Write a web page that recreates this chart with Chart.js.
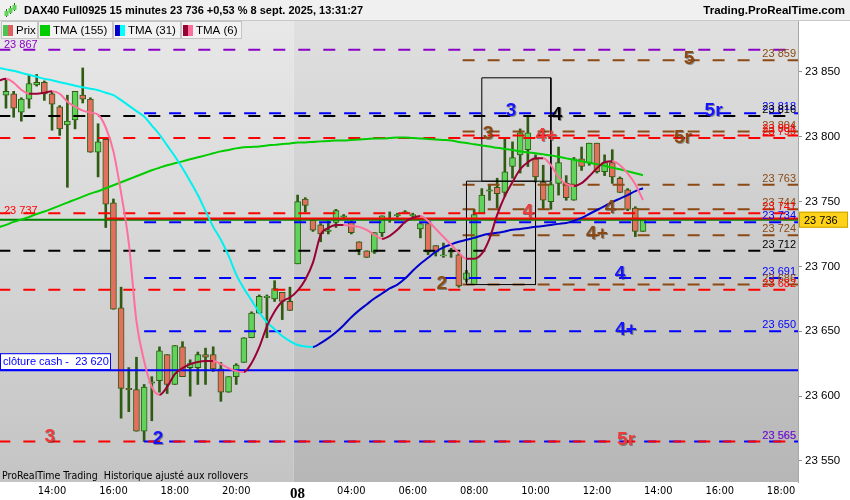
<!DOCTYPE html>
<html>
<head>
<meta charset="utf-8">
<script src="https://cdn.jsdelivr.net/npm/chart.js@4.4.1/dist/chart.umd.min.js"></script>
<style>
  html, body { margin: 0; padding: 0; background: #fff; }
</style>
</head>
<body>
<canvas id="myChart" width="850" height="500"></canvas>
<script>
// 15 minute bars, slot 0 = 14:00 on 5 sept. (night gap squeezed out)
let firstSlot = -6
let opens  = [23832,23833,23819,23829,23840,23842,23833,23823,23809,23813,23832,23829,23788,23798,23749,23668,23606,23605,23573,23610,
              23612,23632,23609,23638,23622,23622,23632,23632,23621,23603,23615,23626,23645,23664,23676,23675,23680,23673,23702,23752,
              23736,23732,23727,23734,23738,23734,23719,23712,23711,23726,23736,23739,23741,23739,23729,23733,23716,23708,23711,23709,
              23690,23686,23741,23758,23761,23757,23777,23786,23790,23783,23765,23750,23764,23764,23751,23783,23780,23795,23773,23780,
              23768,23759,23745,23727]
let highs  = [23845,23835,23830,23848,23848,23843,23835,23824,23832,23835,23853,23830,23810,23799,23752,23684,23622,23630,23609,23615,
              23638,23632,23639,23642,23628,23634,23637,23638,23626,23615,23625,23645,23665,23678,23678,23689,23680,23684,23755,23753,
              23737,23733,23735,23744,23740,23735,23719,23712,23726,23739,23742,23741,23743,23741,23733,23733,23716,23718,23714,23710,
              23697,23744,23760,23763,23768,23799,23796,23806,23816,23786,23778,23765,23792,23770,23784,23792,23795,23795,23786,23790,
              23769,23760,23746,23737]
let lows   = [23822,23815,23812,23822,23839,23828,23805,23801,23761,23806,23826,23788,23769,23730,23667,23583,23588,23573,23565,23581,
              23603,23602,23609,23615,23600,23609,23609,23619,23596,23603,23609,23626,23645,23664,23645,23673,23659,23666,23702,23742,
              23727,23719,23725,23730,23736,23725,23709,23707,23710,23723,23734,23738,23741,23738,23722,23709,23708,23707,23707,23684,
              23688,23686,23741,23751,23745,23754,23768,23772,23777,23765,23744,23744,23755,23751,23751,23774,23778,23772,23770,23764,
              23757,23743,23723,23727]
let closes = [23835,23822,23829,23841,23842,23833,23825,23806,23812,23835,23829,23788,23796,23748,23667,23606,23605,23573,23607,23611,
              23635,23609,23639,23615,23625,23632,23630,23621,23603,23615,23624,23645,23664,23677,23677,23683,23673,23666,23750,23747,
              23728,23725,23728,23743,23739,23726,23713,23707,23726,23739,23737,23740,23742,23740,23733,23711,23711,23709,23712,23685,
              23695,23740,23755,23759,23756,23773,23784,23803,23803,23769,23751,23763,23780,23753,23783,23777,23795,23773,23780,23769,
              23757,23744,23727,23736]

// moving averages, one value per slot from slot -7
let maFirstSlot = -7
let tma155 = [23730.1,23732.0,23734.3,23736.2,23738.1,23740.4,23742.3,23744.6,23746.9,23749.2,23751.5,23753.8,23756.1,23758.0,23760.3,
              23762.6,23764.9,23767.2,23769.5,23771.8,23774.1,23776.1,23778.0,23779.5,23781.0,23782.6,23784.1,23785.6,23787.2,23788.7,
              23789.8,23791.0,23791.8,23792.1,23792.5,23793.3,23793.7,23794.4,23794.8,23795.6,23795.6,23796.0,23796.4,23796.7,23797.1,
              23797.1,23797.5,23797.9,23798.3,23798.7,23798.7,23799.0,23799.4,23799.4,23799.0,23798.7,23798.3,23797.9,23797.5,23797.1,
              23796.0,23795.2,23794.1,23793.3,23792.5,23791.4,23790.6,23789.8,23788.7,23787.9,23787.2,23786.4,23785.6,23784.5,23783.3,
              23782.2,23781.0,23779.9,23778.7,23777.6,23776.1,23774.9,23773.4,23771.8,23770.3]
let tma31  = [23853.1,23851.9,23850.8,23849.2,23847.7,23846.2,23844.6,23843.5,23842.0,23840.8,23839.3,23838.1,23837.0,23835.8,23833.9,
              23832.0,23828.2,23824.0,23819.7,23815.5,23808.6,23801.7,23793.3,23784.9,23775.7,23765.7,23755.0,23742.7,23730.5,23720.5,
              23708.3,23693.7,23683.0,23673.8,23664.6,23657.0,23651.6,23646.3,23642.4,23639.4,23638.2,23637.9,23640.9,23644.7,23649.3,
              23654.7,23660.8,23666.1,23670.7,23675.3,23679.1,23683.0,23686.0,23690.6,23696.7,23702.1,23706.7,23711.3,23714.7,23717.0,
              23719.0,23720.5,23722.0,23723.9,23725.1,23725.9,23727.0,23728.2,23728.9,23729.7,23730.5,23731.2,23732.0,23732.8,23733.5,
              23735.1,23737.4,23740.4,23743.5,23746.5,23749.6,23752.3,23755.0,23758.0,23760.3]
let tma6   = [23843.1,23844.6,23841.6,23836.2,23833.1,23833.1,23833.9,23835.1,23833.1,23827.0,23823.2,23820.1,23818.6,23817.0,23807.1,
              23788.7,23756.5,23718.2,23657.7,23627.0,23607.1,23601.0,23607.1,23617.0,23621.6,23624.7,23626.3,23627.0,23627.0,23624.7,
              23621.6,23619.3,23618.6,23625.5,23637.7,23653.8,23665.3,23673.0,23676.0,23681.4,23689.8,23702.9,23724.3,23729.7,23732.0,
              23732.0,23731.2,23730.5,23728.2,23724.3,23721.3,23723.6,23728.2,23734.3,23737.4,23738.9,23735.1,23728.9,23722.8,23716.7,
              23710.5,23705.9,23705.9,23709.8,23721.3,23739.7,23754.2,23765.0,23774.9,23780.3,23783.3,23783.3,23778.0,23768.8,23763.4,
              23761.9,23764.2,23769.5,23775.7,23780.3,23781.0,23778.0,23771.8,23763.4,23751.1]

// support / resistance levels
let levelValues = [23867,23859,23818,23816,23804,23801,23799,23763,23744,23741,23734,23724,23712,23691,23686,23682,23650,23565,23565]
let levelFrom   = [-7,53.5,12,-7,53.5,53.5,-7,53.5,53.5,-7,12,53.5,-7,12,53.5,-7,12,-7,12]
let levelKind   = ['purple','brown','blue','black','brown','red','red','brown','brown','red','blue','brown','black','blue','brown','red','blue','red','blue']

// solid lines: cash close, previous close, last price
let solidValues = [23620, 23737, 23736]
let solidFrom   = [-7, 7, -7]
let solidKind   = ['blue', 'red', 'green']

// target labels
let tagText  = ['5','3','4','5r','3','4+','5r','4','4','4+','4','2','4+','3','2','5r']
let tagSlot  = [83.0,59.8,65.8,86.2,56.8,64.4,82.2,62.0,72.7,71.0,74.0,50.8,74.8,-0.3,13.8,74.8]
let tagPrice = [23860,23820,23817,23820,23802.5,23801,23799.4,23742,23745,23725,23694.4,23686.8,23651.5,23568.8,23567.2,23566.5]
let tagKind  = ['brown','blue','black','blue','brown','red','brown','red','brown','brown','blue','brown','blue','red','blue','red']

// rectangles
let boxLeft   = [56, 54]
let boxRight  = [65, 63]
let boxTop    = [23845.4, 23765.7]
let boxBottom = [23765.7, 23686]

let yTicks = [23550, 23600, 23650, 23700, 23750, 23800, 23850]
let xTickSlots  = [0, 8, 16, 24, 32, 39, 47, 55, 63, 71, 79, 87, 95]
let xTickLabels = ['14:00','16:00','18:00','20:00','08','04:00','06:00','08:00','10:00','12:00','14:00','16:00','18:00']

const xMin = -6.78, xMax = 97.2
const palette = {purple:'#8a00c8', brown:'#8b4a14', blue:'#0000ff', black:'#000000', red:'#ff0000', green:'#008000'}
const tagColors = {purple:'#8a00c8', brown:'#8b4a14', blue:'#1414ff', black:'#000000', red:'#f03a3a'}
const narrow = "'Liberation Sans Narrow', 'Arial Narrow', 'DejaVu Sans Condensed', sans-serif"
const sans = "'Liberation Sans', Arial, sans-serif"

const fmt = v => String(Math.round(v)).replace(/\B(?=(\d{3})+(?!\d))/g, ' ')

let slots = opens.map((o, i) => firstSlot + i)
let bodies = slots.map((s, i) => ({x: s, y: [opens[i], closes[i]]}))
let wicks = slots.map((s, i) => ({x: s, y: [lows[i], highs[i]]}))
let bodyColors = slots.map((s, i) => closes[i] >= opens[i] ? '#5fd35a' : '#e36f5f')
let maPoints = arr => arr.map((v, i) => ({x: maFirstSlot + i, y: v}))

let datasets = []
// moving averages (lowest order = on top)
datasets.push({type: 'line', data: maPoints(tma6), borderWidth: 2, pointRadius: 0, order: 1,
  cubicInterpolationMode: 'monotone',
  segment: {borderColor: c => c.p1.parsed.y >= c.p0.parsed.y ? '#990033' : '#ff6f9c'}})
datasets.push({type: 'line', data: maPoints(tma31), borderWidth: 2, pointRadius: 0, order: 2,
  cubicInterpolationMode: 'monotone',
  segment: {borderColor: c => c.p1.parsed.y >= c.p0.parsed.y ? '#0000cc' : '#00f0f0'}})
datasets.push({type: 'line', data: maPoints(tma155), borderColor: '#00cc00', borderWidth: 2, pointRadius: 0, order: 3,
  cubicInterpolationMode: 'monotone'})

solidValues.forEach((v, i) => {
  datasets.push({type: 'line', data: [{x: solidFrom[i], y: v}, {x: xMax + 1, y: v}],
    borderColor: palette[solidKind[i]], borderWidth: 2, pointRadius: 0, order: 4})
})

boxLeft.forEach((l, i) => {
  datasets.push({type: 'line', borderColor: '#000', borderWidth: 1, pointRadius: 0, order: 5,
    data: [{x: l, y: boxTop[i]}, {x: boxRight[i], y: boxTop[i]}, {x: boxRight[i], y: boxBottom[i]},
           {x: l, y: boxBottom[i]}, {x: l, y: boxTop[i]}]})
})

levelValues.forEach((v, i) => {
  datasets.push({type: 'line', data: [{x: levelFrom[i], y: v}, {x: xMax + 1, y: v}],
    borderColor: palette[levelKind[i]], borderWidth: 2, borderDash: [12, 13], pointRadius: 0, order: 6})
})

datasets.push({type: 'bar', data: bodies, backgroundColor: bodyColors, borderColor: '#2f5c12', borderWidth: 1,
  borderSkipped: false, barThickness: 6, grouped: false, order: 8})
datasets.push({type: 'bar', data: wicks, backgroundColor: '#2f5c12', borderWidth: 0,
  barThickness: 2, grouped: false, order: 9})

// backgrounds, header, labels and legend
const overlay = {
  id: 'overlay',
  beforeDraw(chart) {
    const ctx = chart.ctx
    const {left, right, top, bottom} = chart.chartArea
    const xs = chart.scales.x
    ctx.save()
    ctx.fillStyle = '#fff'
    ctx.fillRect(0, 0, chart.width, chart.height)
    const split = xs.getPixelForValue(31.5)
    let g1 = ctx.createLinearGradient(0, top, 0, bottom)
    g1.addColorStop(0, '#e8e8e8'); g1.addColorStop(1, '#c4c4c4')
    ctx.fillStyle = g1
    ctx.fillRect(left, top, split - left, bottom - top)
    let g2 = ctx.createLinearGradient(0, top, 0, bottom)
    g2.addColorStop(0, '#e0e0e0'); g2.addColorStop(1, '#b6b6b6')
    ctx.fillStyle = g2
    ctx.fillRect(split, top, right - split, bottom - top)

    // header
    ctx.fillStyle = '#f0f0f0'
    ctx.fillRect(0, 0, chart.width, 20)
    ctx.fillStyle = '#c8c8c8'
    ctx.fillRect(0, 20, chart.width, 1)
    ctx.fillStyle = '#2f5c12'
    ;[[6, 9, 17], [10, 6, 14], [14, 3, 11]].forEach(c => {
      ctx.fillRect(c[0], c[1], 1, c[2] - c[1])
      ctx.fillStyle = '#5fd35a'
      ctx.fillRect(c[0] - 1.5, c[1] + 2, 4, 5)
      ctx.fillStyle = '#2f5c12'
    })
    ctx.fillStyle = '#000'
    ctx.font = 'bold 11px ' + sans
    ctx.textBaseline = 'middle'
    ctx.textAlign = 'left'
    ctx.fillText('DAX40 Full0925 15 minutes 23 736 +0,53 % 8 sept. 2025, 13:31:27', 24, 11)
    ctx.font = 'bold 11.5px ' + sans
    ctx.textAlign = 'right'
    ctx.fillText('Trading.ProRealTime.com', 845, 11)
    ctx.restore()
  },
  afterDatasetsDraw(chart) {
    const ctx = chart.ctx
    const xs = chart.scales.x, ys = chart.scales.y
    const {left, right, bottom} = chart.chartArea
    ctx.save()
    ctx.textBaseline = 'alphabetic'
    ctx.font = '11px ' + sans

    // level values at the right edge
    levelValues.forEach((v, i) => {
      const y = ys.getPixelForValue(v)
      const kind = levelKind[i]
      ctx.fillStyle = v === 23565 ? '#7a22cc' : palette[kind]
      if (kind === 'purple') {
        ctx.textAlign = 'left'
        ctx.fillText(fmt(v), left + 4, y - 2)
      } else {
        ctx.textAlign = 'right'
        ctx.fillText(fmt(v), right - 2, y - 3)
      }
    })
    // previous close label at the left
    ctx.textAlign = 'left'
    ctx.fillStyle = palette.red
    ctx.fillText(fmt(solidValues[1]), left + 4, ys.getPixelForValue(solidValues[1]) - 4)

    // target numbers
    ctx.font = 'bold 19px ' + sans
    ctx.textAlign = 'center'
    ctx.textBaseline = 'middle'
    tagText.forEach((t, i) => {
      const x = xs.getPixelForValue(tagSlot[i]), y = ys.getPixelForValue(tagPrice[i])
      ctx.fillStyle = 'rgba(40,40,40,0.45)'
      ctx.fillText(t, x + 1, y + 1)
      ctx.fillStyle = tagColors[tagKind[i]]
      ctx.fillText(t, x, y)
    })

    // cash close box
    const cy = ys.getPixelForValue(solidValues[0])
    ctx.fillStyle = '#fff'
    ctx.fillRect(left, cy - 16, 110, 15)
    ctx.strokeStyle = '#0000ff'
    ctx.lineWidth = 1
    ctx.strokeRect(left + 0.5, cy - 16.5, 110, 16)
    ctx.fillStyle = '#0000ff'
    ctx.font = '11px ' + sans
    ctx.textAlign = 'left'
    ctx.fillText('clôture cash -  ' + fmt(solidValues[0]), left + 3, cy - 8)

    // bottom note
    ctx.fillStyle = '#000'
    ctx.font = '10.5px ' + narrow
    ctx.fillText('ProRealTime Trading  Historique ajusté aux rollovers', left + 2, bottom - 6)

    // last price tag
    const last = closes[closes.length - 1]
    const py = ys.getPixelForValue(last)
    ctx.fillStyle = '#ffd21a'
    ctx.fillRect(right + 1, py - 8, 49, 16)
    ctx.strokeStyle = '#c9a400'
    ctx.strokeRect(right + 1.5, py - 7.5, 48, 15)
    ctx.fillStyle = '#000'
    ctx.font = '11px ' + sans
    ctx.fillText(fmt(last), right + 6, py + 1)
    ctx.restore()
  },
  afterDraw(chart) {
    const ctx = chart.ctx
    ctx.save()
    // legend bar
    const items = [
      {label: 'Prix', x: 1, w: 37, c: ['#4fc34f', '#e06060']},
      {label: 'TMA (155)', x: 38, w: 75, c: ['#00cc00', '#00cc00']},
      {label: 'TMA (31)', x: 113, w: 68, c: ['#0000cc', '#00ffff']},
      {label: 'TMA (6)', x: 181, w: 61, c: ['#990033', '#ff6f9c']}
    ]
    ctx.font = '11.5px ' + sans
    ctx.textBaseline = 'middle'
    ctx.textAlign = 'left'
    items.forEach(it => {
      ctx.fillStyle = '#f2f2f2'
      ctx.fillRect(it.x, 21, it.w, 18)
      ctx.strokeStyle = '#c4c4c4'
      ctx.lineWidth = 1
      ctx.strokeRect(it.x + 0.5, 21.5, it.w - 1, 17)
      ctx.fillStyle = it.c[0]
      ctx.fillRect(it.x + 2, 25, 5, 11)
      ctx.fillStyle = it.c[1]
      ctx.fillRect(it.x + 7, 25, 5, 11)
      ctx.fillStyle = '#000'
      ctx.fillText(it.label, it.x + 15, 30.5)
    })
    ctx.restore()
  }
}

let ctx = document.getElementById('myChart').getContext('2d')

let myChart = new Chart(ctx, {
  type: 'bar',
  data: {datasets},
  options: {
    responsive: false,
    animation: false,
    devicePixelRatio: 1,
    layout: {padding: {top: 21, left: 0, right: 0, bottom: 0}},
    plugins: {legend: {display: false}, tooltip: {enabled: false}},
    scales: {
      x: {
        type: 'linear', min: xMin, max: xMax, offset: false,
        grid: {display: false, drawTicks: false},
        border: {display: false},
        afterBuildTicks: s => { s.ticks = xTickSlots.map(v => ({value: v})) },
        afterFit: s => { s.height = 18 },
        ticks: {
          autoSkip: false, maxRotation: 0, padding: 3, color: '#000',
          callback: (v) => xTickLabels[xTickSlots.indexOf(v)],
          font: c => (c.tick && c.tick.value === 32)
            ? {family: "'Liberation Serif', serif", size: 15, weight: 'bold'}
            : {family: narrow, size: 11}
        }
      },
      y: {
        position: 'right', min: 23533.8, max: 23889.2,
        grid: {drawOnChartArea: false, drawTicks: true, tickLength: 4, color: '#909090'},
        border: {display: true, color: '#a8a8a8'},
        afterBuildTicks: s => { s.ticks = yTicks.map(v => ({value: v})) },
        afterFit: s => { s.width = 52 },
        ticks: {padding: 3, color: '#000', font: {family: sans, size: 11.5}, callback: v => fmt(v)}
      }
    }
  },
  plugins: [overlay]
})
</script>
</body>
</html>
